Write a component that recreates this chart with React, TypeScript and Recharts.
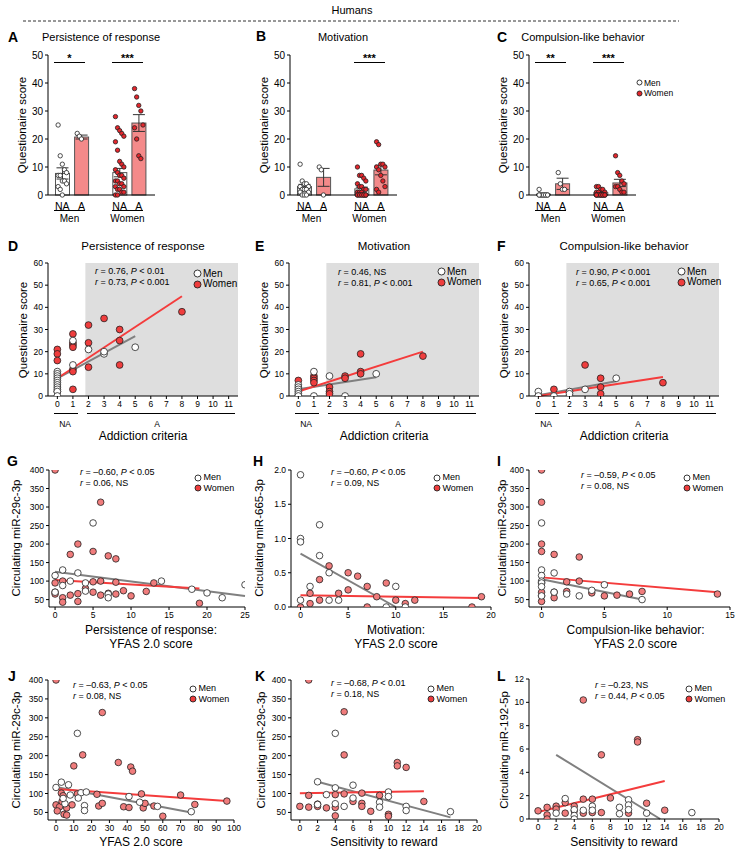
import React from 'react';
import {
  ComposedChart,
  ScatterChart,
  Bar,
  Scatter,
  XAxis,
  YAxis,
  ErrorBar,
  Cell,
  ReferenceArea,
  ReferenceLine,
} from 'recharts';

const FONT = '"Liberation Sans", Arial, Helvetica, sans-serif';
const RED = '#e3262c';
const PINK = '#f48a8a';
const RED_D = '#ef3d3d';
const SALMON = '#f07c7c';
const SHADE = '#dedede';
const LINE_GRAY = '#808080';
const LINE_RED = '#f43c3c';

// ---------- A-C: questionnaire score per group ----------
const groupNames = ['NA', 'A', 'NA', 'A'];
const groupX = [0.75, 1.75, 3.75, 4.75];

const persistMeans = [7.7, 20.7, 8.0, 25.7];
const persistSem = [2.0, 0.7, 1.5, 3.0];
const persistMenNA = [25, 14, 11, 9, 8, 7, 7, 5, 5, 4, 3, 2, 0];
const persistMenA = [22, 21, 20];
const persistWomenNA = [28, 24, 23, 22, 21, 19, 16, 12, 11, 10, 9, 8, 7, 7, 6, 5, 5, 4, 4, 3, 3, 2, 2, 1, 1, 0, 0];
const persistWomenA = [38, 35, 32, 30, 25, 24, 20, 14, 13];

const motivMeans = [3.0, 6.3, 2.2, 8.9];
const motivSem = [0.8, 3.2, 0.6, 1.7];
const motivMenNA = [11, 5, 4, 4, 3, 3, 2, 2, 2, 1, 1, 0, 0, 0];
const motivMenA = [10, 9, 0];
const motivWomenNA = [10, 7, 7, 6, 5, 4, 3, 3, 2, 2, 1, 1, 1, 0, 0, 0, 0, 0, 0, 0, 0, 0, 0, 0, 0];
const motivWomenA = [19, 18, 11, 11, 10, 10, 9, 7, 5, 3, 2, 1];

const compMeans = [0.3, 4.0, 0.8, 4.3];
const compSem = [0.2, 2.0, 0.3, 1.3];
const compMenNA = [2, 0, 0, 0, 0, 0, 0, 0, 0, 0, 0];
const compMenA = [8, 4, 2, 2];
const compWomenNA = [3, 3, 2, 2, 1, 1, 1, 0, 0, 0, 0, 0, 0, 0, 0, 0, 0, 0, 0, 0, 0];
const compWomenA = [14, 8, 7, 5, 4, 3, 3, 2, 1, 1];

// ---------- D-F: score vs addiction criteria ----------
const dMen = [[0, 11], [0, 10], [0, 9], [0, 8], [0, 7], [0, 6], [0, 5], [0, 4], [0, 3], [0, 2], [0, 0], [1, 25], [1, 14], [2, 21], [3, 19], [3, 20], [5, 22]];
const dWomen = [[0, 21], [0, 19], [0, 16], [0, 2], [1, 28], [1, 24], [1, 23], [1, 22], [1, 12], [1, 11], [1, 3], [2, 32], [2, 24], [2, 13], [3, 35], [4, 30], [4, 25], [4, 14], [8, 38]];
const dFitMen = [[0, 8], [5, 27]];
const dFitWomen = [[0, 8], [8, 45]];

const eMen = [[0, 5], [0, 4], [0, 3], [0, 2], [0, 1], [0, 0], [1, 11], [1, 0], [2, 9], [3, 0], [5, 10]];
const eWomen = [[0, 7], [0, 0], [1, 9], [1, 8], [1, 7], [1, 6], [2, 4], [2, 2], [2, 1], [3, 9], [3, 8], [4, 19], [4, 11], [4, 10], [8, 18]];
const eFitMen = [[0, 3], [5, 8.5]];
const eFitWomen = [[0, 2], [8, 20]];

const fMen = [[0, 2], [0, 0], [1, 0], [2, 2], [2, 1], [3, 3], [5, 8]];
const fWomen = [[0, 0], [1, 3], [2, 0], [3, 14], [4, 8], [4, 4], [4, 1], [8, 6]];
const fFitMen = [[0, 0.3], [5, 6.7]];
const fFitWomen = [[0, 0], [8, 8.6]];

// ---------- G-I: miRNA vs YFAS subscales ----------
const gMen = [[5, 257], [1, 130], [0, 115], [3, 122], [2, 100], [4, 95], [1, 88], [0, 70], [7, 65], [7, 55], [14, 100], [18, 78], [20, 68], [22, 55], [25, 90], [4, 73]];
const gWomen = [[0, 400], [6, 313], [3, 200], [2, 172], [5, 180], [7, 168], [8, 160], [1, 100], [0, 95], [5, 98], [6, 100], [8, 97], [13, 95], [19, 40], [0, 70], [0, 65], [1, 55], [2, 62], [3, 45], [4, 80], [5, 70], [6, 62], [8, 65], [10, 60], [12, 72], [1, 43], [9, 74], [7, 67], [3, 66]];
const gFitMen = [[0, 125], [25, 60]];
const gFitWomen = [[0, 103], [19, 80]];

const hMen = [[0, 1.93], [2, 1.2], [0, 1.0], [0, 0.95], [2, 0.75], [3, 0.5], [1, 0.3], [0, 0.1], [4, 0.1], [9, 0], [11, 0], [3, 0.1], [10, 0.3]];
const hWomen = [[1, 0.05], [2, 0.1], [0, 0], [7, 0], [10, 0.1], [18, 0], [3, 0.6], [5, 0.5], [6, 0.45], [7, 0.3], [4, 0.2], [8, 0.15], [1, 0.2], [2, 0.4], [5, 0.25], [19, 0.15], [12, 0.1], [9, 0.35], [11, 0.05]];
const hFitMen = [[0, 0.78], [10, 0]];
const hFitWomen = [[0, 0.17], [19, 0.13]];

const iMen = [[0, 257], [0, 130], [0, 115], [0, 100], [0, 95], [0, 85], [1, 70], [2, 65], [3, 60], [4, 75], [5, 90], [8, 50], [0, 60], [1, 122]];
const iWomen = [[0, 400], [0, 313], [0, 200], [0, 180], [1, 172], [3, 165], [3, 100], [0, 95], [1, 70], [2, 98], [4, 68], [5, 60], [6, 62], [7, 65], [8, 72], [14, 65], [0, 60], [0, 45], [1, 55], [0, 70], [2, 72]];
const iFitMen = [[0, 105], [8, 50]];
const iFitWomen = [[0, 110], [14, 70]];

// ---------- J-L ----------
const jMen = [[12, 259], [0, 116], [3, 130], [7, 123], [14, 102], [17, 104], [12.5, 88], [8, 96], [5, 73], [16, 68], [16, 55], [41, 92], [47, 77], [57, 66], [76, 52], [4, 87]];
const jWomen = [[0, 400], [26, 314], [15, 202], [10, 173], [35, 182], [42, 170], [43, 159], [3, 101], [4, 94], [12, 99], [23, 98], [48, 99], [70, 96], [96, 80], [78, 71], [0, 70], [2, 65], [0.7, 54], [3.4, 79], [9, 70], [6, 62], [4.5, 45], [6, 43], [24, 67], [26, 74], [38, 65], [41, 63], [49, 62], [50, 74], [55, 67], [60, 40]];
const jFitMen = [[0, 117], [76, 50]];
const jFitWomen = [[0, 112], [96, 80]];

const kMen = [[4, 259], [2, 131], [4, 115], [6, 122], [3, 97], [4, 73], [5, 66], [6, 88], [9, 77], [9, 64], [10, 104], [10, 92], [12, 66], [12, 55], [17, 52], [2, 71]];
const kWomen = [[1, 400], [5, 316], [5, 202], [11, 182], [11, 173], [12, 169], [1, 95], [0, 66], [1, 64], [2, 72], [2, 66], [3, 62], [4, 97], [4, 63], [4, 41], [5, 99], [6, 79], [7, 101], [7, 74], [7, 66], [8, 53], [9, 95], [10, 45], [10, 40], [14, 79]];
const kFitMen = [[2, 131], [17, 37]];
const kFitWomen = [[0, 101], [14, 106]];

const lMen = [[3, 1.75], [2, 0.5], [4, 0.8], [4, 0.3], [4, 0], [5, 0.75], [6, 1.1], [6, 0.75], [9, 1.0], [9, 0.45], [10, 1.65], [10, 1.2], [10, 0.8], [12, 0.5], [17, 0.55]];
const lWomen = [[5, 10.2], [11, 6.8], [11, 6.6], [7, 5.5], [8, 1.8], [5, 1.7], [6, 1.7], [12, 1.35], [3, 1.4], [0, 0.7], [1, 1.0], [1, 0.35], [1, 0], [2, 1.1], [2, 0.85], [3, 0.5], [4, 1.1], [4, 0.7], [5, 0.5], [6, 0.55], [7, 0.55], [10, 0.5], [14, 0.75]];
const lFitMen = [[2, 5.5], [13.5, 0]];
const lFitWomen = [[0, 0.6], [14, 3.25]];

const mir29Ticks = [50, 100, 150, 200, 250, 300, 350, 400];
const addictionTicks = [0, 1, 2, 3, 4, 5, 6, 7, 8, 9, 10, 11];

// ---------- layout helpers ----------
type Box = { x: number; y: number; w: number; h: number };
const YW = 40;
const PAD = 10;

const sx = (b: Box, d: number[], v: number) => b.x + ((v - d[0]) / (d[1] - d[0])) * b.w;

const pts = (arr: number[][]) => arr.map(([x, y]) => ({ x, y }));
const seg = (arr: number[][]) => arr.map(([x, y]) => ({ x, y }));

const spread = (vals: number[], cx: number) =>
  vals.map((v, j) => ({ x: cx + ((j % 5) - 2) * 0.11, y: v }));

const dot = (fill: string, r: number) => (p: any) =>
  <circle cx={p.cx} cy={p.cy} r={r} fill={fill} stroke="#222" strokeWidth={0.8} />;

// bars on a numeric axis come out very thin, so draw them at a fixed 14px
const barShape = (p: any) => {
  const cx = p.x + p.width / 2;
  return <rect x={cx - 7} y={p.y} width={14} height={Math.max(p.height, 0)} fill={p.fill} stroke="#555" strokeWidth={1} />;
};

function Txt({ x, y, s = 11, a = 'l', b = false, rot = false, children }: any) {
  const tx = a === 'c' ? '-50%' : a === 'r' ? '-100%' : '0';
  return (
    <div
      style={{
        position: 'absolute',
        left: x,
        top: y,
        fontSize: s,
        fontWeight: b ? 700 : 400,
        lineHeight: 1,
        whiteSpace: 'nowrap',
        transform: `translate(${tx}, -50%)${rot ? ' rotate(-90deg)' : ''}`,
      }}
    >
      {children}
    </div>
  );
}

function HLine({ x1, x2, y }: any) {
  return <div style={{ position: 'absolute', left: x1, top: y, width: x2 - x1, borderTop: '1px solid #000' }} />;
}

function Legend2({ x, y, r, s, fill, gap = 10.5 }: any) {
  const item = (yy: number, f: string, label: string) => (
    <div style={{ position: 'absolute', left: x - r, top: yy - r - 1, display: 'flex', alignItems: 'center', fontSize: s, lineHeight: 1, whiteSpace: 'nowrap' }}>
      <svg width={2 * r + 2} height={2 * r + 2} style={{ display: 'block' }}>
        <circle cx={r + 1} cy={r + 1} r={r} fill={f} stroke="#222" strokeWidth={0.9} />
      </svg>
      <span style={{ marginLeft: 1.5 }}>{label}</span>
    </div>
  );
  return (
    <>
      {item(y, '#fff', 'Men')}
      {item(y + gap, fill, 'Women')}
    </>
  );
}

function Stat({ x, y, l1, l2 }: any) {
  return (
    <>
      <Txt x={x} y={y} s={9}>{l1}</Txt>
      <Txt x={x} y={y + 11} s={9}>{l2}</Txt>
    </>
  );
}

// ---------- bar panels ----------
const BAR_D = [0, 5.6];

function BarPanel({ box, means, sems, groups }: any) {
  const data = groupX.map((x, i) => ({ x, mean: means[i], sem: sems[i] }));
  const men = [...spread(groups[0], groupX[0]), ...spread(groups[1], groupX[1])];
  const women = [...spread(groups[2], groupX[2]), ...spread(groups[3], groupX[3])];
  return (
    <div style={{ position: 'absolute', left: box.x - YW, top: box.y - PAD }}>
      <ComposedChart
        width={box.w + YW + PAD}
        height={box.h + PAD + 20}
        data={data}
        margin={{ top: PAD, right: PAD, left: 0, bottom: 0 }}
      >
        <XAxis
          type="number"
          dataKey="x"
          domain={BAR_D}
          ticks={groupX}
          interval={0}
          tickLine={false}
          height={20}
          tickFormatter={(v: number) => groupNames[groupX.indexOf(v)]}
          tick={{ fontSize: 10.5, fill: '#000' }}
          axisLine={{ stroke: '#000' }}
          allowDataOverflow
        />
        <YAxis
          type="number"
          domain={[0, 50]}
          ticks={[0, 10, 20, 30, 40, 50]}
          interval={0}
          width={YW}
          tickSize={3}
          tick={{ fontSize: 10, fill: '#000' }}
          axisLine={{ stroke: '#000' }}
          tickLine={{ stroke: '#000' }}
        />
        <Bar dataKey="mean" shape={barShape} isAnimationActive={false}>
          {data.map((d, i) => (
            <Cell key={i} fill={i % 2 ? PINK : '#fff'} />
          ))}
          <ErrorBar dataKey="sem" width={6} stroke="#333" strokeWidth={1} direction="y" />
        </Bar>
        <Scatter data={men} dataKey="y" shape={dot('#fff', 2.2)} isAnimationActive={false} />
        <Scatter data={women} dataKey="y" shape={dot(RED, 2.2)} isAnimationActive={false} />
      </ComposedChart>
    </div>
  );
}

function BarDecor({ box, sig }: any) {
  const m1 = sx(box, BAR_D, 0.31);
  const m2 = sx(box, BAR_D, 1.94);
  const w1 = sx(box, BAR_D, 3.35);
  const w2 = sx(box, BAR_D, 4.97);
  return (
    <>
      <HLine x1={m1} x2={m2} y={210} />
      <HLine x1={w1} x2={w2} y={210} />
      <Txt x={(m1 + m2) / 2} y={219} s={10} a="c">Men</Txt>
      <Txt x={(w1 + w2) / 2} y={219} s={10} a="c">Women</Txt>
      {sig[0] && (
        <>
          <HLine x1={m1} x2={m2} y={62} />
          <Txt x={(m1 + m2) / 2} y={58} s={11} a="c" b>{sig[0]}</Txt>
        </>
      )}
      {sig[1] && (
        <>
          <HLine x1={w1} x2={w2} y={62} />
          <Txt x={(w1 + w2) / 2} y={58} s={11} a="c" b>{sig[1]}</Txt>
        </>
      )}
      <Txt x={box.x - 25} y={box.y + box.h / 2} s={11.5} a="c" rot>Questionaire score</Txt>
    </>
  );
}

// ---------- scatter panels ----------
function ScatterPanel({ box, xd, yd, xt, yt, men, women, fitMen, fitWomen, r, wFill, shade, yFmt }: any) {
  return (
    <div style={{ position: 'absolute', left: box.x - YW, top: box.y - PAD }}>
      <ScatterChart
        width={box.w + YW + PAD}
        height={box.h + PAD + 20}
        margin={{ top: PAD, right: PAD, left: 0, bottom: 0 }}
      >
        <XAxis
          type="number"
          dataKey="x"
          domain={xd}
          ticks={xt}
          interval={0}
          tickSize={3}
          height={20}
          tick={{ fontSize: 8.5, fill: '#000' }}
          axisLine={{ stroke: '#000' }}
          tickLine={{ stroke: '#000' }}
          allowDataOverflow
        />
        <YAxis
          type="number"
          dataKey="y"
          domain={yd}
          ticks={yt}
          interval={0}
          tickSize={3}
          width={YW}
          tick={{ fontSize: 8.5, fill: '#000' }}
          tickFormatter={yFmt}
          axisLine={{ stroke: '#000' }}
          tickLine={{ stroke: '#000' }}
          allowDataOverflow
        />
        {shade && <ReferenceArea x1={1.8} x2={xd[1]} y1={yd[0]} y2={yd[1]} fill={SHADE} fillOpacity={1} stroke="none" />}
        <Scatter data={pts(women)} shape={dot(wFill, r)} isAnimationActive={false} />
        <Scatter data={pts(men)} shape={dot('#fff', r)} isAnimationActive={false} />
        <ReferenceLine segment={seg(fitMen)} stroke={LINE_GRAY} strokeWidth={2} />
        <ReferenceLine segment={seg(fitWomen)} stroke={LINE_RED} strokeWidth={2} />
      </ScatterChart>
    </div>
  );
}

function AddictionDecor({ box, title }: any) {
  const d = [-0.6, 11.6];
  const cx = box.x + box.w / 2;
  return (
    <>
      <HLine x1={sx(box, d, -0.2)} x2={sx(box, d, 1.3)} y={413} />
      <HLine x1={sx(box, d, 1.9)} x2={sx(box, d, 11.4)} y={413} />
      <Txt x={sx(box, d, 0.5)} y={424} s={8.5} a="c">NA</Txt>
      <Txt x={sx(box, d, 6.4)} y={424} s={8.5} a="c">A</Txt>
      <Txt x={cx} y={436} s={12} a="c">Addiction criteria</Txt>
      <Txt x={cx} y={247} s={11.5} a="c">{title}</Txt>
      <Txt x={box.x - 24} y={box.y + box.h / 2} s={11.5} a="c" rot>Questionaire score</Txt>
    </>
  );
}

// panel boxes
const bA: Box = { x: 48, y: 55, w: 107, h: 140 };
const bB: Box = { x: 290, y: 55, w: 107, h: 140 };
const bC: Box = { x: 529, y: 55, w: 107, h: 140 };
const bD: Box = { x: 48, y: 263, w: 190, h: 133 };
const bE: Box = { x: 289, y: 263, w: 190, h: 133 };
const bF: Box = { x: 529, y: 263, w: 190, h: 133 };
const bG: Box = { x: 49, y: 470, w: 196, h: 137 };
const bH: Box = { x: 291, y: 470, w: 200, h: 137 };
const bI: Box = { x: 529, y: 470, w: 201, h: 137 };
const bJ: Box = { x: 48, y: 680, w: 186, h: 140 };
const bK: Box = { x: 291, y: 680, w: 186, h: 140 };
const bL: Box = { x: 529, y: 679, w: 190, h: 140 };

export default function App() {
  return (
    <div
      style={{
        position: 'absolute',
        left: 0,
        top: 0,
        width: 744,
        height: 854,
        background: '#fff',
        fontFamily: FONT,
        color: '#000',
        overflow: 'hidden',
      }}
    >
      <Txt x={352} y={10} s={11} a="c">Humans</Txt>
      <svg style={{ position: 'absolute', left: 23, top: 20 }} width={656} height={2}>
        <line x1={0} y1={1} x2={656} y2={1} stroke="#333" strokeWidth={1} strokeDasharray="3 2" />
      </svg>

      {/* Row 1 */}
      <BarPanel box={bA} means={persistMeans} sems={persistSem} groups={[persistMenNA, persistMenA, persistWomenNA, persistWomenA]} />
      <BarPanel box={bB} means={motivMeans} sems={motivSem} groups={[motivMenNA, motivMenA, motivWomenNA, motivWomenA]} />
      <BarPanel box={bC} means={compMeans} sems={compSem} groups={[compMenNA, compMenA, compWomenNA, compWomenA]} />
      <BarDecor box={bA} sig={['*', '***']} />
      <BarDecor box={bB} sig={[null, '***']} />
      <BarDecor box={bC} sig={['**', '***']} />
      <Txt x={8} y={37} s={14} b>A</Txt>
      <Txt x={101} y={37} s={11} a="c">Persistence of response</Txt>
      <Txt x={256} y={36} s={14} b>B</Txt>
      <Txt x={343} y={37} s={11} a="c">Motivation</Txt>
      <Txt x={497} y={37} s={14} b>C</Txt>
      <Txt x={583} y={37} s={11} a="c">Compulsion-like behavior</Txt>
      <Legend2 x={638} y={82} r={2.5} s={8.5} fill={RED} gap={10.5} />

      {/* Row 2 */}
      <ScatterPanel box={bD} xd={[-0.6, 11.6]} yd={[0, 60]} xt={addictionTicks} yt={[0, 10, 20, 30, 40, 50, 60]} men={dMen} women={dWomen} fitMen={dFitMen} fitWomen={dFitWomen} r={3.4} wFill={RED_D} shade />
      <ScatterPanel box={bE} xd={[-0.6, 11.6]} yd={[0, 60]} xt={addictionTicks} yt={[0, 10, 20, 30, 40, 50, 60]} men={eMen} women={eWomen} fitMen={eFitMen} fitWomen={eFitWomen} r={3.4} wFill={RED_D} shade />
      <ScatterPanel box={bF} xd={[-0.6, 11.6]} yd={[0, 60]} xt={addictionTicks} yt={[0, 10, 20, 30, 40, 50, 60]} men={fMen} women={fWomen} fitMen={fFitMen} fitWomen={fFitWomen} r={3.4} wFill={RED_D} shade />
      <AddictionDecor box={bD} title="Persistence of response" />
      <AddictionDecor box={bE} title="Motivation" />
      <AddictionDecor box={bF} title="Compulsion-like behavior" />
      <Txt x={8} y={246} s={14} b>D</Txt>
      <Txt x={255} y={246} s={14} b>E</Txt>
      <Txt x={497} y={246} s={14} b>F</Txt>
      <Stat x={95} y={271} l1={<><i>r</i> = 0.76, <i>P</i> &lt; 0.01</>} l2={<><i>r</i> = 0.73, <i>P</i> &lt; 0.001</>} />
      <Stat x={338} y={272} l1={<><i>r</i> = 0.46, NS</>} l2={<><i>r</i> = 0.81, <i>P</i> &lt; 0.001</>} />
      <Stat x={576} y={272} l1={<><i>r</i> = 0.90, <i>P</i> &lt; 0.001</>} l2={<><i>r</i> = 0.65, <i>P</i> &lt; 0.001</>} />
      <Legend2 x={196} y={273} r={3.5} s={10} fill={RED_D} gap={10.5} />
      <Legend2 x={440} y={271} r={3.5} s={10} fill={RED_D} gap={10.5} />
      <Legend2 x={680} y={271} r={3.5} s={10} fill={RED_D} gap={10.5} />

      {/* Row 3 */}
      <ScatterPanel box={bG} xd={[-0.8, 25]} yd={[30, 400]} xt={[0, 5, 10, 15, 20, 25]} yt={mir29Ticks} men={gMen} women={gWomen} fitMen={gFitMen} fitWomen={gFitWomen} r={3.3} wFill={SALMON} />
      <ScatterPanel box={bH} xd={[-1, 20]} yd={[0, 2]} xt={[0, 5, 10, 15, 20]} yt={[0, 0.5, 1, 1.5, 2]} yFmt={(v: number) => v.toFixed(1)} men={hMen} women={hWomen} fitMen={hFitMen} fitWomen={hFitWomen} r={3.3} wFill={SALMON} />
      <ScatterPanel box={bI} xd={[-1, 15]} yd={[30, 400]} xt={[0, 5, 10, 15]} yt={mir29Ticks} men={iMen} women={iWomen} fitMen={iFitMen} fitWomen={iFitWomen} r={3.3} wFill={SALMON} />
      <Txt x={7} y={461} s={14} b>G</Txt>
      <Txt x={253} y={461} s={14} b>H</Txt>
      <Txt x={497} y={461} s={14} b>I</Txt>
      <Txt x={17} y={538} s={11.5} a="c" rot>Circulating miR-29c-3p</Txt>
      <Txt x={260} y={538} s={11.5} a="c" rot>Circulating miR-665-3p</Txt>
      <Txt x={503} y={538} s={11.5} a="c" rot>Circulating miR-29c-3p</Txt>
      <Txt x={bG.x + bG.w / 2 + 4} y={630} s={12} a="c">Persistence of response:</Txt>
      <Txt x={bG.x + bG.w / 2 + 4} y={644} s={12} a="c">YFAS 2.0 score</Txt>
      <Txt x={bH.x + bH.w / 2 + 5} y={630} s={12} a="c">Motivation:</Txt>
      <Txt x={bH.x + bH.w / 2 + 5} y={644} s={12} a="c">YFAS 2.0 score</Txt>
      <Txt x={bI.x + bI.w / 2 + 6} y={630} s={12} a="c">Compulsion-like behavior:</Txt>
      <Txt x={bI.x + bI.w / 2 + 6} y={644} s={12} a="c">YFAS 2.0 score</Txt>
      <Stat x={80} y={472} l1={<><i>r</i> = –0.60, <i>P</i> &lt; 0.05</>} l2={<><i>r</i> = 0.06, NS</>} />
      <Stat x={331} y={472} l1={<><i>r</i> = –0.60, <i>P</i> &lt; 0.05</>} l2={<><i>r</i> = 0.09, NS</>} />
      <Stat x={581} y={475} l1={<><i>r</i> = –0.59, <i>P</i> &lt; 0.05</>} l2={<><i>r</i> = 0.08, NS</>} />
      <Legend2 x={197} y={477} r={3} s={9} fill={RED_D} gap={10.5} />
      <Legend2 x={436} y={477} r={3} s={9} fill={RED_D} gap={10.5} />
      <Legend2 x={686} y={477} r={3} s={9} fill={RED_D} gap={10.5} />

      {/* Row 4 */}
      <ScatterPanel box={bJ} xd={[-4.5, 100]} yd={[30, 400]} xt={[0, 10, 20, 30, 40, 50, 60, 70, 80, 90, 100]} yt={mir29Ticks} men={jMen} women={jWomen} fitMen={jFitMen} fitWomen={jFitWomen} r={3.3} wFill={SALMON} />
      <ScatterPanel box={bK} xd={[-1, 20]} yd={[30, 400]} xt={[0, 2, 4, 6, 8, 10, 12, 14, 16, 18, 20]} yt={mir29Ticks} men={kMen} women={kWomen} fitMen={kFitMen} fitWomen={kFitWomen} r={3.3} wFill={SALMON} />
      <ScatterPanel box={bL} xd={[-1, 20]} yd={[0, 12]} xt={[0, 2, 4, 6, 8, 10, 12, 14, 16, 18, 20]} yt={[0, 2, 4, 6, 8, 10, 12]} men={lMen} women={lWomen} fitMen={lFitMen} fitWomen={lFitWomen} r={3.3} wFill={SALMON} />
      <Txt x={8} y={676} s={14} b>J</Txt>
      <Txt x={255} y={676} s={14} b>K</Txt>
      <Txt x={497} y={676} s={14} b>L</Txt>
      <Txt x={17} y={750} s={11.5} a="c" rot>Circulating miR-29c-3p</Txt>
      <Txt x={262} y={750} s={11.5} a="c" rot>Circulating miR-29c-3p</Txt>
      <Txt x={505} y={750} s={11.5} a="c" rot>Circulating miR-192-5p</Txt>
      <Txt x={bJ.x + bJ.w / 2} y={842} s={12} a="c">YFAS 2.0 score</Txt>
      <Txt x={bK.x + bK.w / 2} y={842} s={12} a="c">Sensitivity to reward</Txt>
      <Txt x={bL.x + bL.w / 2} y={842} s={12} a="c">Sensitivity to reward</Txt>
      <Stat x={73} y={685} l1={<><i>r</i> = –0.63, <i>P</i> &lt; 0.05</>} l2={<><i>r</i> = 0.08, NS</>} />
      <Stat x={331} y={683} l1={<><i>r</i> = –0.68, <i>P</i> &lt; 0.01</>} l2={<><i>r</i> = 0.18, NS</>} />
      <Stat x={595} y={685} l1={<><i>r</i> = –0.23, NS</>} l2={<><i>r</i> = 0.44, <i>P</i> &lt; 0.05</>} />
      <Legend2 x={192} y={688} r={3} s={9} fill={RED_D} gap={10.5} />
      <Legend2 x={430} y={688} r={3} s={9} fill={RED_D} gap={10.5} />
      <Legend2 x={688} y={688} r={3} s={9} fill={RED_D} gap={10.5} />
    </div>
  );
}
